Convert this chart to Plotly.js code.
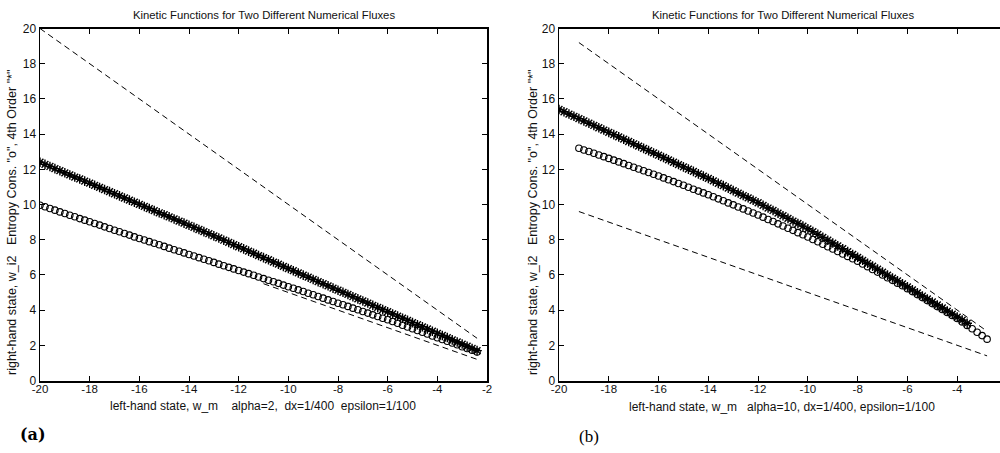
<!DOCTYPE html>
<html>
<head>
<meta charset="utf-8">
<script src="https://cdn.plot.ly/plotly-3.0.1.min.js"></script>
<style>
html,body{margin:0;padding:0;overflow:hidden;background:#fff;}
#chart{width:1010px;height:453px;}
</style>
</head>
<body>
<div id="chart"></div>
<script>
// ---------- Panel (a): alpha = 2 ----------
const xA = [-20.0,-19.8,-19.6,-19.4,-19.2,-19.0,-18.8,-18.6,-18.4,-18.2,-18.0,-17.8,-17.6,-17.4,-17.2,-17.0,-16.8,-16.6,-16.4,-16.2,
-16.0,-15.8,-15.6,-15.4,-15.2,-15.0,-14.8,-14.6,-14.4,-14.2,-14.0,-13.8,-13.6,-13.4,-13.2,-13.0,-12.8,-12.6,-12.4,-12.2,
-12.0,-11.8,-11.6,-11.4,-11.2,-11.0,-10.8,-10.6,-10.4,-10.2,-10.0,-9.8,-9.6,-9.4,-9.2,-9.0,-8.8,-8.6,-8.4,-8.2,
-8.0,-7.8,-7.6,-7.4,-7.2,-7.0,-6.8,-6.6,-6.4,-6.2,-6.0,-5.8,-5.6,-5.4,-5.2,-5.0,-4.8,-4.6,-4.4,-4.2,
-4.0,-3.8,-3.6,-3.4,-3.2,-3.0,-2.8,-2.6,-2.4];
const starsA = [12.40,12.28,12.16,12.04,11.92,11.80,11.68,11.56,11.45,11.33,11.21,11.09,10.97,10.85,10.73,10.61,10.49,10.37,10.25,10.13,
10.01,9.89,9.77,9.65,9.53,9.42,9.30,9.18,9.06,8.94,8.82,8.70,8.58,8.46,8.34,8.22,8.10,7.97,7.85,7.72,
7.60,7.48,7.35,7.23,7.10,6.98,6.86,6.73,6.61,6.48,6.36,6.24,6.11,5.99,5.87,5.74,5.62,5.50,5.38,5.25,
5.13,5.01,4.89,4.76,4.64,4.52,4.40,4.27,4.15,4.03,3.91,3.78,3.66,3.54,3.42,3.29,3.17,3.05,2.93,2.80,
2.68,2.56,2.44,2.31,2.19,2.07,1.95,1.82,1.70];
const circlesA = [9.96,9.87,9.77,9.68,9.58,9.49,9.39,9.30,9.20,9.11,9.02,8.92,8.83,8.73,8.64,8.54,8.45,8.35,8.26,8.16,
8.07,7.98,7.89,7.80,7.71,7.62,7.52,7.43,7.34,7.25,7.16,7.07,6.98,6.89,6.80,6.71,6.61,6.52,6.43,6.34,
6.25,6.16,6.07,5.98,5.88,5.79,5.70,5.61,5.52,5.42,5.33,5.24,5.15,5.06,4.96,4.87,4.77,4.68,4.58,4.49,
4.39,4.30,4.21,4.11,4.02,3.92,3.83,3.73,3.64,3.54,3.45,3.35,3.25,3.14,3.04,2.94,2.84,2.74,2.64,2.53,
2.43,2.33,2.23,2.13,2.03,1.92,1.82,1.72,1.62];
const upperA_x = [-20.0, -2.4];
const upperA_y = [20.0, 2.4];
const lowerA_x = [-11.0, -2.4];
const lowerA_y = [5.5, 1.2];

// ---------- Panel (b): alpha = 10 ----------
const xBc = [-19.2,-19.0,-18.8,-18.6,-18.4,-18.2,-18.0,-17.8,-17.6,-17.4,-17.2,-17.0,-16.8,-16.6,-16.4,-16.2,-16.0,
-15.8,-15.6,-15.4,-15.2,-15.0,-14.8,-14.6,-14.4,-14.2,-14.0,-13.8,-13.6,-13.4,-13.2,-13.0,-12.8,-12.6,-12.4,-12.2,-12.0,
-11.8,-11.6,-11.4,-11.2,-11.0,-10.8,-10.6,-10.4,-10.2,-10.0,-9.8,-9.6,-9.4,-9.2,-9.0,-8.8,-8.6,-8.4,-8.2,-8.0,
-7.8,-7.6,-7.4,-7.2,-7.0,-6.8,-6.6,-6.4,-6.2,-6.0,-5.8,-5.6,-5.4,-5.2,-5.0,-4.8,-4.6,-4.4,-4.2,-4.0,
-3.8,-3.6,-3.4,-3.2,-3.0,-2.8];
const circlesB = [13.20,13.10,13.01,12.91,12.81,12.72,12.62,12.52,12.42,12.32,12.22,12.12,12.02,11.92,11.82,11.72,11.62,
11.51,11.41,11.30,11.19,11.09,10.98,10.87,10.76,10.66,10.55,10.44,10.32,10.21,10.09,9.98,9.86,9.75,9.63,9.52,9.40,
9.28,9.15,9.03,8.90,8.78,8.65,8.53,8.40,8.28,8.15,8.01,7.88,7.74,7.60,7.47,7.33,7.19,7.05,6.92,6.78,
6.62,6.47,6.31,6.16,6.00,5.84,5.69,5.53,5.38,5.22,5.05,4.88,4.71,4.54,4.37,4.20,4.03,3.86,3.69,3.52,
3.33,3.13,2.94,2.74,2.55,2.35];
const xBs = [-20.0,-19.8,-19.6,-19.4,-19.2,-19.0,-18.8,-18.6,-18.4,-18.2,-18.0,-17.8,-17.6,-17.4,-17.2,-17.0,-16.8,-16.6,-16.4,-16.2,
-16.0,-15.8,-15.6,-15.4,-15.2,-15.0,-14.8,-14.6,-14.4,-14.2,-14.0,-13.8,-13.6,-13.4,-13.2,-13.0,-12.8,-12.6,-12.4,-12.2,
-12.0,-11.8,-11.6,-11.4,-11.2,-11.0,-10.8,-10.6,-10.4,-10.2,-10.0,-9.8,-9.6,-9.4,-9.2,-9.0,-8.8,-8.6,-8.4,-8.2,
-8.0,-7.8,-7.6,-7.4,-7.2,-7.0,-6.8,-6.6,-6.4,-6.2,-6.0,-5.8,-5.6,-5.4,-5.2,-5.0,-4.8,-4.6,-4.4,-4.2,
-4.0,-3.8,-3.6];
const starsB = [15.40,15.27,15.14,15.01,14.88,14.75,14.62,14.49,14.36,14.23,14.10,13.97,13.84,13.71,13.58,13.45,13.32,13.19,13.06,12.93,
12.80,12.67,12.54,12.40,12.27,12.14,12.01,11.88,11.74,11.61,11.48,11.34,11.20,11.07,10.93,10.79,10.65,10.51,10.38,10.24,
10.10,9.95,9.80,9.66,9.51,9.36,9.21,9.06,8.92,8.77,8.62,8.46,8.30,8.13,7.97,7.81,7.65,7.49,7.32,7.16,
7.00,6.83,6.66,6.50,6.33,6.16,5.99,5.82,5.66,5.49,5.32,5.15,4.98,4.80,4.63,4.46,4.29,4.12,3.94,3.77,
3.60,3.43,3.25];
const upperB_x = [-19.2, -2.8];
const upperB_y = [19.2, 2.8];
const lowerB_x = [-19.2, -2.8];
const lowerB_y = [9.6, 1.4];

const xTicks = [-20,-18,-16,-14,-12,-10,-8,-6,-4,-2];
const yTicks = [0,2,4,6,8,10,12,14,16,18,20];
const titleText = 'Kinetic Functions for Two Different Numerical Fluxes';
const NB = '\u00A0';
const xLabelA = 'left-hand state, w_m' + NB.repeat(4) + 'alpha=2,' + NB.repeat(2) + 'dx=1/400' + NB.repeat(2) + 'epsilon=1/100';
const xLabelB = 'left-hand state, w_m' + NB.repeat(3) + 'alpha=10, dx=1/400, epsilon=1/100';
const yLabel = 'right-hand state, w_i2' + NB.repeat(3) + 'Entropy Cons. "o", 4th Order "*"';

// ---------- drawing ----------
const W = 1010, H = 453;
const px = v => v / W;
const py = v => 1 - v / H;
const FONT = '"Liberation Sans", Arial, Helvetica, sans-serif';
const INK = '#111';

function dashed(x, y, xa, ya) {
  return {x, y, xaxis: xa, yaxis: ya, type: 'scatter', mode: 'lines',
          line: {color: '#000', width: 1, dash: '6px,4px'}, hoverinfo: 'skip', showlegend: false};
}
function circles(x, y, xa, ya) {
  return {x, y, xaxis: xa, yaxis: ya, type: 'scatter', mode: 'markers',
          marker: {symbol: 'circle-open', size: 6.5, color: '#000', line: {width: 1.1, color: '#000'}},
          hoverinfo: 'skip', showlegend: false};
}
function stars(x, y, xa, ya) {
  return {x, y, xaxis: xa, yaxis: ya, type: 'scatter', mode: 'markers',
          marker: {symbol: 'asterisk-open', size: 8, color: '#000', line: {width: 1.4, color: '#000'}},
          hoverinfo: 'skip', showlegend: false};
}

const data = [
  dashed(upperA_x, upperA_y, 'x', 'y'),
  dashed(lowerA_x, lowerA_y, 'x', 'y'),
  circles(xA, circlesA, 'x', 'y'),
  stars(xA, starsA, 'x', 'y'),
  dashed(upperB_x, upperB_y, 'x2', 'y2'),
  dashed(lowerB_x, lowerB_y, 'x2', 'y2'),
  circles(xBc, circlesB, 'x2', 'y2'),
  stars(xBs, starsB, 'x2', 'y2')
];

function xAxis(domain, anchor) {
  return {domain, anchor, range: [-20, -2], tickvals: xTicks, ticktext: xTicks.map(String),
          ticks: 'inside', ticklen: 5, tickwidth: 1, tickcolor: '#000',
          ticklabelstandoff: -3,
          showline: true, linecolor: '#000', linewidth: 2, mirror: 'ticks',
          showgrid: false, zeroline: false, fixedrange: true,
          tickfont: {family: FONT, size: 11.5, color: INK}};
}
function yAxis(domain, anchor) {
  return {domain, anchor, range: [0, 20], tickvals: yTicks, ticktext: yTicks.map(String),
          ticks: 'inside', ticklen: 5, tickwidth: 1, tickcolor: '#000',
          showline: true, linecolor: '#000', linewidth: 1.5, mirror: 'ticks',
          showgrid: false, zeroline: false, fixedrange: true,
          tickfont: {family: FONT, size: 12, color: INK}};
}

const yDom = [py(380.5), py(28.5)];
const layout = {
  width: W, height: H,
  margin: {l: 0, r: 0, t: 0, b: 0, pad: 0},
  paper_bgcolor: '#fff', plot_bgcolor: '#fff',
  showlegend: false,
  xaxis: xAxis([px(40), px(487)], 'y'),
  yaxis: yAxis(yDom, 'x'),
  xaxis2: xAxis([px(559), px(1007)], 'y2'),
  yaxis2: yAxis(yDom, 'x2'),
  annotations: [
    {text: titleText, x: px(264), y: py(15), xref: 'paper', yref: 'paper', xanchor: 'center', yanchor: 'middle', showarrow: false, font: {family: FONT, size: 11.3, color: INK}},
    {text: titleText, x: px(783), y: py(15), xref: 'paper', yref: 'paper', xanchor: 'center', yanchor: 'middle', showarrow: false, font: {family: FONT, size: 11.3, color: INK}},
    {text: xLabelA, x: px(263), y: py(406), xref: 'paper', yref: 'paper', xanchor: 'center', yanchor: 'middle', showarrow: false, font: {family: FONT, size: 12, color: INK}},
    {text: xLabelB, x: px(782), y: py(407), xref: 'paper', yref: 'paper', xanchor: 'center', yanchor: 'middle', showarrow: false, font: {family: FONT, size: 12, color: INK}},
    {text: yLabel, x: px(12), y: py(223), xref: 'paper', yref: 'paper', xanchor: 'center', yanchor: 'middle', textangle: -90, showarrow: false, font: {family: FONT, size: 12.5, color: INK}},
    {text: yLabel, x: px(533), y: py(223), xref: 'paper', yref: 'paper', xanchor: 'center', yanchor: 'middle', textangle: -90, showarrow: false, font: {family: FONT, size: 12.5, color: INK}},
    {text: '<b>(a)</b>', x: px(33), y: py(434), xref: 'paper', yref: 'paper', xanchor: 'center', yanchor: 'middle', showarrow: false, font: {family: '"DejaVu Serif", "Liberation Serif", serif', size: 16, color: '#000'}},
    {text: '(b)', x: px(589), y: py(436), xref: 'paper', yref: 'paper', xanchor: 'center', yanchor: 'middle', showarrow: false, font: {family: '"Liberation Serif", "DejaVu Serif", serif', size: 17, color: '#000'}}
  ]
};

Plotly.newPlot('chart', data, layout, {staticPlot: true, displayModeBar: false});
</script>
</body>
</html>
